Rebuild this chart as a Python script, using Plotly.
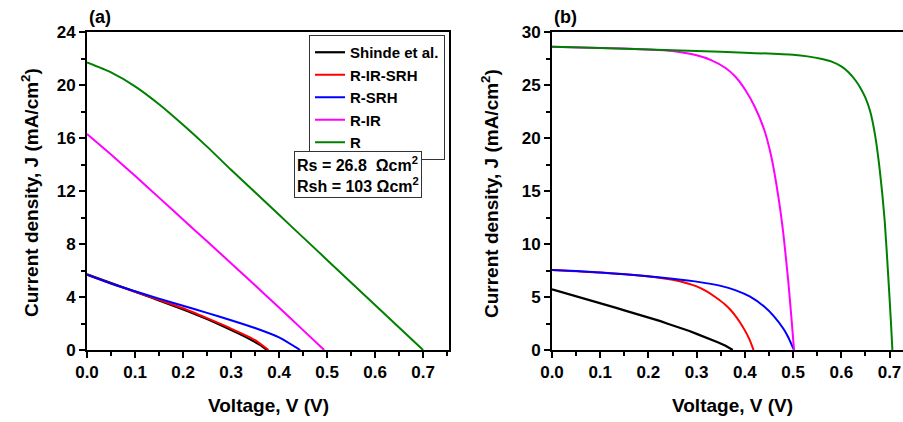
import plotly.graph_objects as go

# ---------------- data ----------------
# Experimental (Shinde et al.) - shared by both panels
v_exp = [0.000, 0.015, 0.030, 0.045, 0.060, 0.075, 0.090, 0.105, 0.120, 0.135, 0.150, 0.165, 0.180,
         0.195, 0.210, 0.225, 0.240, 0.255, 0.270, 0.285, 0.300, 0.315, 0.330, 0.345, 0.360, 0.375]
j_exp = [5.72, 5.53, 5.33, 5.14, 4.95, 4.76, 4.55, 4.36, 4.14, 3.95, 3.74, 3.55, 3.33,
         3.13, 2.92, 2.72, 2.48, 2.27, 2.02, 1.79, 1.52, 1.27, 0.99, 0.71, 0.40, 0.0]

# Panel (a)
va_rirsrh = [0.0, 0.05, 0.10, 0.15, 0.20, 0.25, 0.30, 0.35, 0.378]
ja_rirsrh = [5.68, 5.02, 4.40, 3.78, 3.15, 2.40, 1.62, 0.75, 0.0]
va_rsrh = [0.0, 0.05, 0.10, 0.15, 0.20, 0.25, 0.30, 0.35, 0.40, 0.444]
ja_rsrh = [5.68, 5.02, 4.43, 3.88, 3.34, 2.80, 2.25, 1.66, 0.95, 0.0]
va_rir = [0.0, 0.05, 0.10, 0.15, 0.20, 0.25, 0.30, 0.35, 0.40, 0.45, 0.494]
ja_rir = [16.3, 14.75, 13.15, 11.5, 9.85, 8.2, 6.55, 4.88, 3.2, 1.5, 0.0]
va_r = [0.0, 0.05, 0.10, 0.15, 0.20, 0.25, 0.30, 0.35, 0.40, 0.45, 0.50, 0.55, 0.60, 0.65, 0.70]
ja_r = [21.7, 20.95, 19.9, 18.55, 17.0, 15.35, 13.6, 11.9, 10.2, 8.5, 6.8, 5.1, 3.4, 1.7, 0.0]

# Panel (b)
vb_rirsrh = [0.0, 0.10, 0.20, 0.25, 0.28, 0.30, 0.32, 0.34, 0.36, 0.37, 0.38, 0.39, 0.40, 0.41, 0.418]
jb_rirsrh = [7.55, 7.30, 6.93, 6.62, 6.30, 6.00, 5.55, 4.95, 4.25, 3.80, 3.25, 2.60, 1.85, 0.95, 0.0]
vb_rsrh = [0.0, 0.05, 0.10, 0.15, 0.20, 0.25, 0.30, 0.35, 0.38, 0.41, 0.44, 0.46, 0.48, 0.49, 0.50, 0.502]
jb_rsrh = [7.55, 7.45, 7.30, 7.15, 6.95, 6.72, 6.45, 6.05, 5.65, 5.05, 4.10, 3.20, 2.00, 1.20, 0.20, 0.0]
vb_rir = [0.0, 0.10, 0.20, 0.25, 0.30, 0.33, 0.36, 0.38, 0.40, 0.42, 0.44, 0.455, 0.47, 0.48, 0.49, 0.497, 0.502]
jb_rir = [28.6, 28.5, 28.35, 28.2, 27.8, 27.35, 26.6, 25.8, 24.6, 23.0, 20.8, 18.2, 14.3, 10.9, 6.5, 2.8, 0.0]
vb_r = [0.0, 0.10, 0.20, 0.30, 0.40, 0.50, 0.53, 0.56, 0.58, 0.60, 0.615, 0.63, 0.64, 0.65, 0.66,
        0.67, 0.68, 0.69, 0.698, 0.703, 0.706]
jb_r = [28.6, 28.5, 28.35, 28.2, 28.05, 27.85, 27.7, 27.45, 27.2, 26.75, 26.2, 25.4, 24.7, 23.8, 22.5,
        20.3, 16.9, 12.2, 6.5, 2.6, 0.0]

names = ["Shinde et al.", "R-IR-SRH", "R-SRH", "R-IR", "R"]
colors = ["#000000", "#FF0000", "#0000FF", "#FF00FF", "#008000"]

W, H = 903, 422
FONT = "Arial, Liberation Sans, sans-serif"

def px_x(p):
    return p / W

def px_y(p):
    return 1 - p / H

fig = go.Figure()

panel_a = [(v_exp, j_exp), (va_rirsrh, ja_rirsrh), (va_rsrh, ja_rsrh), (va_rir, ja_rir), (va_r, ja_r)]
panel_b = [(v_exp, j_exp), (vb_rirsrh, jb_rirsrh), (vb_rsrh, jb_rsrh), (vb_rir, jb_rir), (vb_r, jb_r)]

def line_style(i, c):
    if i == 0:
        return dict(color=c, width=2.2)
    return dict(color=c, width=2, shape="spline", smoothing=0.6)

for i, ((x, y), n, c) in enumerate(zip(panel_a, names, colors)):
    fig.add_trace(go.Scatter(x=x, y=y, mode="lines", name="<b>%s</b>" % n,
                             line=line_style(i, c), xaxis="x", yaxis="y"))
for i, ((x, y), n, c) in enumerate(zip(panel_b, names, colors)):
    fig.add_trace(go.Scatter(x=x, y=y, mode="lines", name=n, showlegend=False,
                             line=line_style(i, c), xaxis="x2", yaxis="y2"))

tickfont = dict(family=FONT, size=17, color="black", weight="bold")

def xaxis_cfg(domain, rng):
    return dict(domain=domain, range=rng, showline=True, linecolor="black", linewidth=2,
                mirror=True, ticks="outside", ticklen=6, tickwidth=2, tickcolor="black",
                dtick=0.1, tick0=0, tickformat=".1f", tickfont=tickfont,
                showgrid=False, zeroline=False, fixedrange=True, automargin=False,
                minor=dict(dtick=0.05, ticks="outside", ticklen=4, tickwidth=1.5, tickcolor="black"))

def yaxis_cfg(domain, rng, dtick, minor, mirror, anchor):
    return dict(domain=domain, range=rng, showline=True, linecolor="black", linewidth=2,
                mirror=mirror, ticks="outside", ticklen=6, tickwidth=2, tickcolor="black",
                dtick=dtick, tick0=0, tickfont=tickfont, anchor=anchor, automargin=False,
                showgrid=False, zeroline=False, fixedrange=True,
                minor=dict(dtick=minor, ticks="outside", ticklen=4, tickwidth=1.5, tickcolor="black"))

ydom = [px_y(350), px_y(32)]
fig.update_layout(
    width=W, height=H, margin=dict(l=0, r=0, t=0, b=0, pad=0, autoexpand=False),
    paper_bgcolor="white", plot_bgcolor="white",
    font=dict(family=FONT, color="black"),
    xaxis=xaxis_cfg([px_x(87), px_x(449)], [0, 0.754]) | dict(anchor="y"),
    yaxis=yaxis_cfg(ydom, [0, 24], 4, 2, True, "x"),
    xaxis2=xaxis_cfg([px_x(552), 1.0], [0, 0.728]) | dict(anchor="y2"),
    yaxis2=yaxis_cfg(ydom, [0, 30], 5, 2.5, False, "x2"),
    showlegend=True,
    legend=dict(x=px_x(445), y=px_y(35), xanchor="right", yanchor="top",
                bordercolor="#333333", borderwidth=1, bgcolor="white",
                font=dict(family=FONT, size=15, color="black"),
                tracegroupgap=0, itemwidth=30),
)

ann_font = dict(family=FONT, size=19, color="black")
annotations = [
    dict(text="<b>Voltage, V (V)</b>", x=px_x(268), y=px_y(405), xref="paper", yref="paper",
         showarrow=False, font=ann_font, xanchor="center", yanchor="middle"),
    dict(text="<b>Voltage, V (V)</b>", x=px_x(732), y=px_y(405), xref="paper", yref="paper",
         showarrow=False, font=ann_font, xanchor="center", yanchor="middle"),
    dict(text="<b>Current density, J (mA/cm<sup>2</sup>)</b>", x=px_x(30), y=px_y(193),
         xref="paper", yref="paper", showarrow=False, font=ann_font, textangle=-90,
         xanchor="center", yanchor="middle"),
    dict(text="<b>Current density, J (mA/cm<sup>2</sup>)</b>", x=px_x(490), y=px_y(193),
         xref="paper", yref="paper", showarrow=False, font=ann_font, textangle=-90,
         xanchor="center", yanchor="middle"),
    dict(text="<b>(a)</b>", x=px_x(87), y=px_y(17), xref="paper", yref="paper", showarrow=False,
         font=dict(family=FONT, size=18, color="black"), xanchor="left", yanchor="middle"),
    dict(text="<b>(b)</b>", x=px_x(552), y=px_y(17), xref="paper", yref="paper", showarrow=False,
         font=dict(family=FONT, size=18, color="black"), xanchor="left", yanchor="middle"),
    dict(text="<b>Rs = 26.8\u00a0\u00a0\u03a9cm<sup>2</sup></b><br><b>Rsh = 103 \u03a9cm<sup>2</sup></b>",
         x=px_x(294), y=px_y(151), xref="paper", yref="paper", showarrow=False, align="left",
         font=dict(family=FONT, size=16, color="black"), xanchor="left", yanchor="top",
         bordercolor="#333333", borderwidth=1, borderpad=2, bgcolor="white"),
]
fig.update_layout(annotations=annotations)

fig.write_html("out.html")
